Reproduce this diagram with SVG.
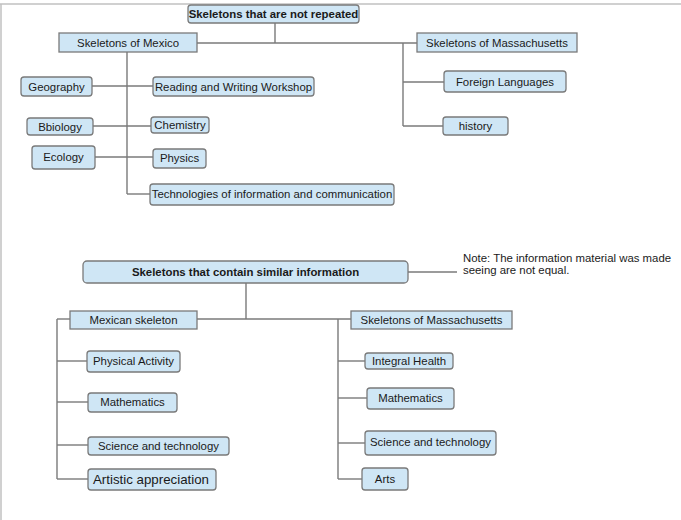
<svg xmlns="http://www.w3.org/2000/svg" width="681" height="520" viewBox="0 0 681 520">
<style>
.n{fill:#cfe6f5;stroke:#7a7a7a;stroke-width:1.3}
.t{font-family:"Liberation Sans",Arial,sans-serif;font-size:11.4px;fill:#1a1a1a;text-anchor:middle;dominant-baseline:central}
.b{font-weight:bold}
.c line{stroke:#7a7a7a;stroke-width:1.4}
.f{stroke:#c0c0c0;stroke-width:1.5}
</style>
<rect width="681" height="520" fill="#fff"/>
<line class="f" x1="0" y1="4" x2="681" y2="4"/>
<line class="f" x1="1" y1="4" x2="1" y2="520"/>
<g class="c" id="connectors">
<line x1="275" y1="23" x2="275" y2="43"/>
<line x1="197" y1="43" x2="417" y2="43"/>
<line x1="127" y1="52" x2="127" y2="194"/>
<line x1="92" y1="86" x2="153" y2="86"/>
<line x1="93" y1="126" x2="151" y2="126"/>
<line x1="95" y1="157" x2="153" y2="157"/>
<line x1="127" y1="194" x2="150" y2="194"/>
<line x1="403" y1="43" x2="403" y2="126"/>
<line x1="403" y1="82" x2="444" y2="82"/>
<line x1="403" y1="126" x2="443" y2="126"/>
<line x1="408" y1="272" x2="457" y2="272"/>
<line x1="246" y1="283" x2="246" y2="319"/>
<line x1="197" y1="319" x2="351" y2="319"/>
<line x1="57" y1="319" x2="70" y2="319"/>
<line x1="57" y1="319" x2="57" y2="479"/>
<line x1="57" y1="361" x2="87" y2="361"/>
<line x1="57" y1="402" x2="88" y2="402"/>
<line x1="57" y1="445" x2="88" y2="445"/>
<line x1="57" y1="479" x2="88" y2="479"/>
<line x1="338" y1="319" x2="338" y2="479"/>
<line x1="338" y1="361" x2="365" y2="361"/>
<line x1="338" y1="398" x2="367" y2="398"/>
<line x1="338" y1="443" x2="365" y2="443"/>
<line x1="338" y1="479" x2="362" y2="479"/>
</g>
<g id="root1"><rect class="n" x="188" y="5" width="171" height="18" rx="3"/><text class="t b" x="273.5" y="14">Skeletons that are not repeated</text></g>
<g id="mexico"><rect class="n" x="59" y="33" width="138" height="19"/><text class="t" x="128" y="43">Skeletons of Mexico</text></g>
<g id="mass"><rect class="n" x="417" y="33" width="160" height="19"/><text class="t" x="497" y="43">Skeletons of Massachusetts</text></g>
<g id="geography"><rect class="n" x="21" y="77" width="71" height="19" rx="3"/><text class="t" x="56.5" y="86.5">Geography</text></g>
<g id="reading"><rect class="n" x="153" y="77" width="161" height="19" rx="3"/><text class="t" x="233.5" y="86.5">Reading and Writing Workshop</text></g>
<g id="bbiology"><rect class="n" x="27" y="118" width="66" height="17" rx="3"/><text class="t" x="60" y="126.5">Bbiology</text></g>
<g id="chemistry"><rect class="n" x="151" y="117" width="58" height="16" rx="3"/><text class="t" x="180" y="124.5">Chemistry</text></g>
<g id="ecology"><rect class="n" x="32" y="146" width="63" height="23" rx="3"/><text class="t" x="63.5" y="157">Ecology</text></g>
<g id="physics"><rect class="n" x="153" y="149" width="53" height="19" rx="3"/><text class="t" x="179.5" y="158">Physics</text></g>
<g id="tech"><rect class="n" x="150" y="184" width="244" height="21" rx="3"/><text class="t" x="272" y="194">Technologies of information and communication</text></g>
<g id="foreign"><rect class="n" x="444" y="71" width="122" height="21" rx="3"/><text class="t" x="505" y="82">Foreign Languages</text></g>
<g id="history"><rect class="n" x="443" y="117" width="65" height="18" rx="3"/><text class="t" x="475.5" y="126">history</text></g>
<g id="root2"><rect class="n" x="83" y="261" width="325" height="22" rx="4"/><text class="t b" x="245.5" y="272">Skeletons that contain similar information</text></g>
<g id="note"><text class="t" style="text-anchor:start;dominant-baseline:auto" x="463" y="262">Note: The information material was made</text><text class="t" style="text-anchor:start;dominant-baseline:auto" x="463" y="274">seeing are not equal.</text></g>
<g id="mexican"><rect class="n" x="70" y="311" width="127" height="18"/><text class="t" x="133.5" y="320">Mexican skeleton</text></g>
<g id="mass2"><rect class="n" x="351" y="311" width="161" height="18"/><text class="t" x="431.5" y="320">Skeletons of Massachusetts</text></g>
<g id="physical"><rect class="n" x="87" y="351" width="93" height="21" rx="3"/><text class="t" x="133.5" y="361">Physical Activity</text></g>
<g id="math1"><rect class="n" x="88" y="393" width="89" height="19" rx="3"/><text class="t" x="132.5" y="402">Mathematics</text></g>
<g id="sci1"><rect class="n" x="88" y="437" width="141" height="18" rx="3"/><text class="t" x="158.5" y="445.5">Science and technology</text></g>
<g id="artistic"><rect class="n" x="88" y="469" width="128" height="21" rx="3"/><text class="t" style="font-size:13.3px" x="151" y="479">Artistic appreciation</text></g>
<g id="integral"><rect class="n" x="365" y="353" width="88" height="16" rx="3"/><text class="t" x="409" y="361">Integral Health</text></g>
<g id="math2"><rect class="n" x="367" y="388" width="87" height="21" rx="3"/><text class="t" x="410.5" y="398">Mathematics</text></g>
<g id="sci2"><rect class="n" x="365" y="431" width="131" height="24" rx="3"/><text class="t" x="430.5" y="442">Science and technology</text></g>
<g id="arts"><rect class="n" x="362" y="468" width="46" height="22" rx="3"/><text class="t" x="385" y="479">Arts</text></g>
</svg>
